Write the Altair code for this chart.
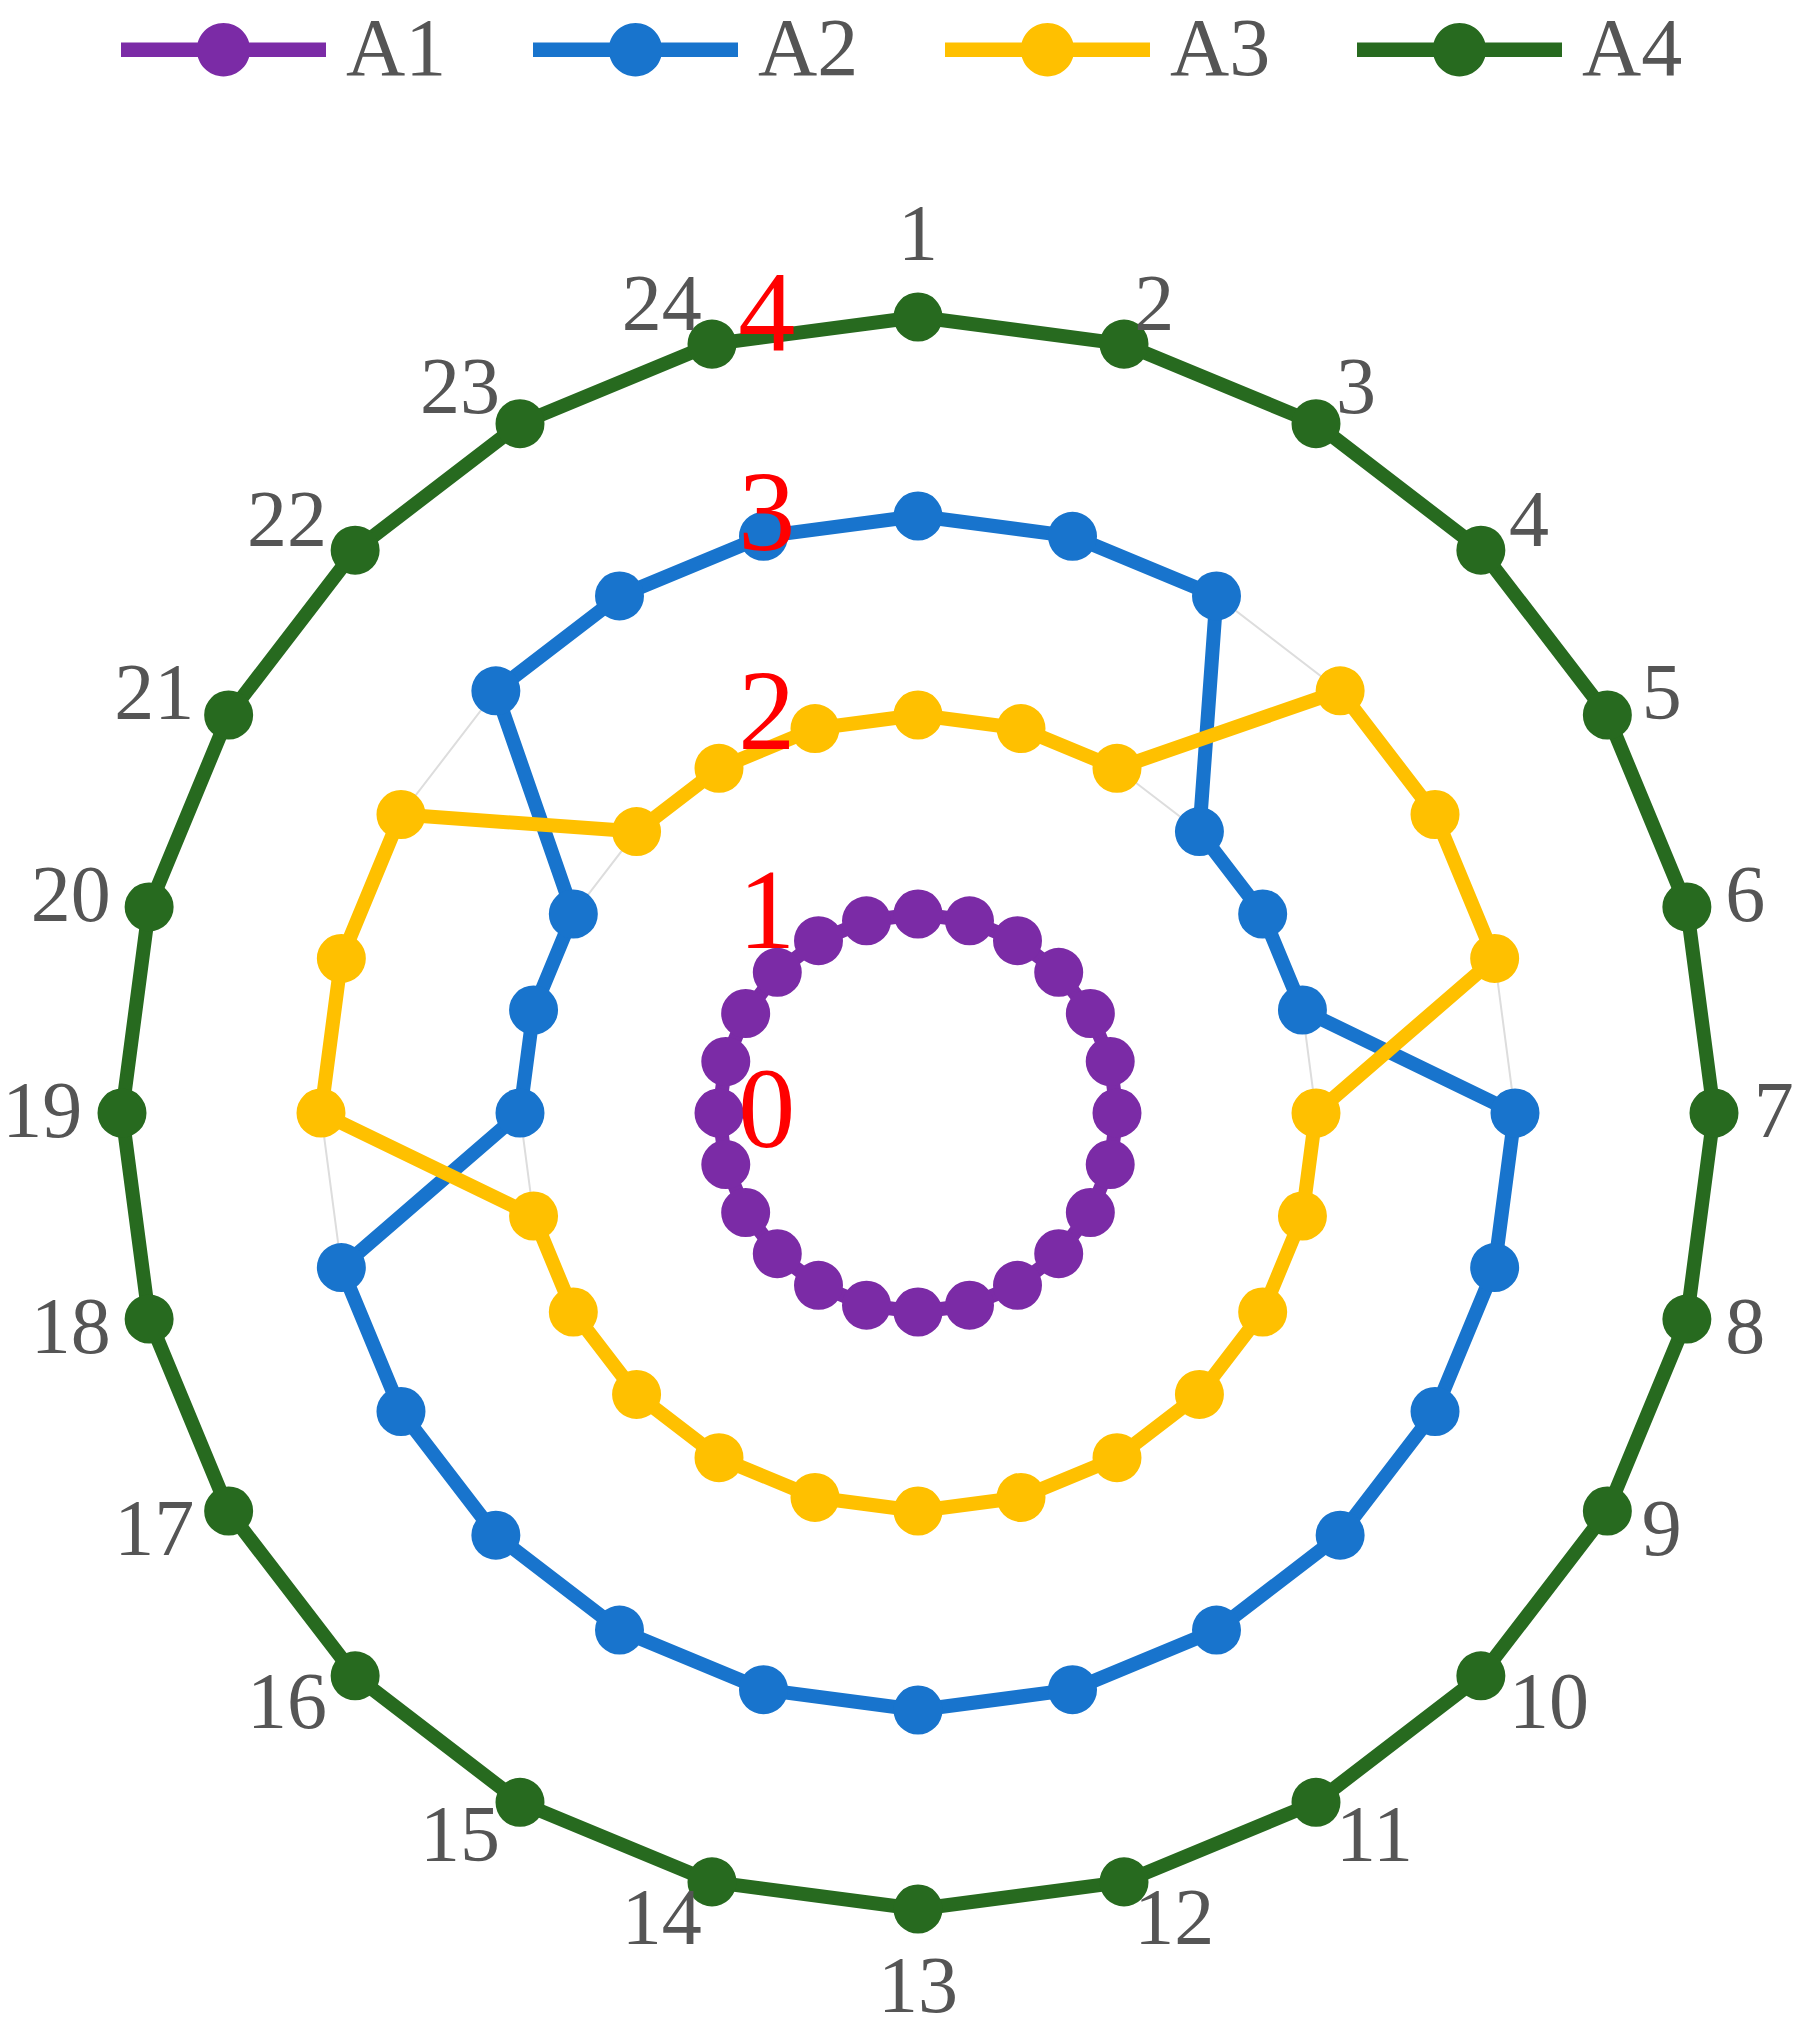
import altair as alt
import pandas as pd

# ---------------- data ----------------
spokes = list(range(1, 25))
spoke_labels = [str(s) for s in spokes]
series_names = ["A1", "A2", "A3", "A4"]
A1 = [1, 1, 1, 1, 1, 1, 1, 1, 1, 1, 1, 1, 1, 1, 1, 1, 1, 1, 1, 1, 1, 1, 1, 1]
A2 = [3, 3, 3, 2, 2, 2, 3, 3, 3, 3, 3, 3, 3, 3, 3, 3, 3, 3, 2, 2, 2, 3, 3, 3]
A3 = [2, 2, 2, 3, 3, 3, 2, 2, 2, 2, 2, 2, 2, 2, 2, 2, 2, 2, 3, 3, 3, 2, 2, 2]
A4 = [4, 4, 4, 4, 4, 4, 4, 4, 4, 4, 4, 4, 4, 4, 4, 4, 4, 4, 4, 4, 4, 4, 4, 4]
grid_levels = [1, 2, 3, 4]
radial_ticks = [0, 1, 2, 3, 4]
colors = ["#7B2BA6", "#1874CD", "#FFC000", "#276A1F"]

N = len(spokes)

rows = []
for name, vals in zip(series_names, [A1, A2, A3, A4]):
    for i, (s, v) in enumerate(zip(spokes, vals)):
        rows.append(dict(series=name, spoke=s, value=v, ord=i))
    rows.append(dict(series=name, spoke=spokes[0], value=vals[0], ord=N))
df = pd.DataFrame(rows)

grid_rows = []
for lv in grid_levels:
    for i, s in enumerate(spokes + [spokes[0]]):
        grid_rows.append(dict(level=lv, spoke=s, value=lv, ord=i))
grid_df = pd.DataFrame(grid_rows)

lab_df = pd.DataFrame({"spoke": spokes, "label": spoke_labels})
tick_df = pd.DataFrame({"value": radial_ticks, "label": [str(t) for t in radial_ticks]})

# ---------------- geometry of the scales ----------------
W, H = 1790, 2020
CX, CY, UNIT = 910.0, 1105.0, 199.0
xdom = [-CX / UNIT, (W - CX) / UNIT]
ydom = [-(H - CY) / UNIT, CY / UNIT]
xs = alt.Scale(domain=xdom, nice=False, zero=False)
ys = alt.Scale(domain=ydom, nice=False, zero=False)

ANG = f"(datum.spoke - 1) * 2 * PI / {N}"
X = alt.X("x:Q", scale=xs, axis=None)
Y = alt.Y("y:Q", scale=ys, axis=None)

color_scale = alt.Scale(domain=series_names, range=colors)

FONT = "Liberation Serif"

legend_path = (
    "M-1,-0.07L1,-0.07L1,0.07L-1,0.07Z "
    "M-0.26,0A0.26,0.26 0 1,1 0.26,0A0.26,0.26 0 1,1 -0.26,0Z"
)
LEG = alt.Legend(
    title=None, orient="none", legendX=113, legendY=-61,
    direction="horizontal", columns=4,
    symbolType=legend_path, symbolSize=42025, symbolStrokeWidth=0,
    symbolOpacity=1,
    labelFont=FONT, labelFontSize=82, labelColor="#555555",
    labelOffset=20, columnPadding=86, padding=0,
)

grid = alt.Chart(grid_df).transform_calculate(
    x=f"datum.value * sin({ANG})", y=f"datum.value * cos({ANG})"
).mark_line(color="#DDDDDD", strokeWidth=2).encode(
    x=X, y=Y, detail="level:N", order="ord:Q"
)

base = alt.Chart(df).transform_calculate(
    x=f"datum.value * sin({ANG})", y=f"datum.value * cos({ANG})"
)

lines = base.mark_line(strokeWidth=14, strokeJoin="round").encode(
    x=X, y=Y, order="ord:Q",
    color=alt.Color("series:N", scale=color_scale, legend=LEG),
)

points = base.transform_filter(f"datum.ord < {N}").mark_point(
    filled=True, size=2400, opacity=1
).encode(
    x=X, y=Y,
    color=alt.Color("series:N", scale=color_scale, legend=LEG),
)

LR = 4.2
lab_base = alt.Chart(lab_df).transform_calculate(
    x=f"{LR} * sin({ANG})", y=f"{LR} * cos({ANG})"
)
txt_kw = dict(font=FONT, fontSize=80, color="#555555")
lab_right = lab_base.transform_filter(
    f"datum.spoke > 1 && datum.spoke < {N // 2 + 1}"
).mark_text(align="left", baseline="middle", **txt_kw).encode(x=X, y=Y, text="label:N")
lab_left = lab_base.transform_filter(
    f"datum.spoke > {N // 2 + 1}"
).mark_text(align="right", baseline="middle", **txt_kw).encode(x=X, y=Y, text="label:N")
lab_top = lab_base.transform_filter("datum.spoke == 1").mark_text(
    align="center", baseline="bottom", **txt_kw
).encode(x=X, y=Y, text="label:N")
lab_bottom = lab_base.transform_filter(f"datum.spoke == {N // 2 + 1}").mark_text(
    align="center", baseline="top", **txt_kw
).encode(x=X, y=Y, text="label:N")

ticks = alt.Chart(tick_df).transform_calculate(
    x="-0.76", y="datum.value"
).mark_text(
    align="center", baseline="middle", font=FONT, fontSize=114, color="#FF0000"
).encode(x=X, y=Y, text="label:N")

chart = alt.layer(
    grid, lines, points, lab_right, lab_left, lab_top, lab_bottom, ticks
).properties(
    width=W, height=H, padding=0,
    autosize=alt.AutoSizeParams(type="none"),
).configure_view(stroke=None)

chart.save("out.html", embed_options={"renderer": "svg", "actions": False})
